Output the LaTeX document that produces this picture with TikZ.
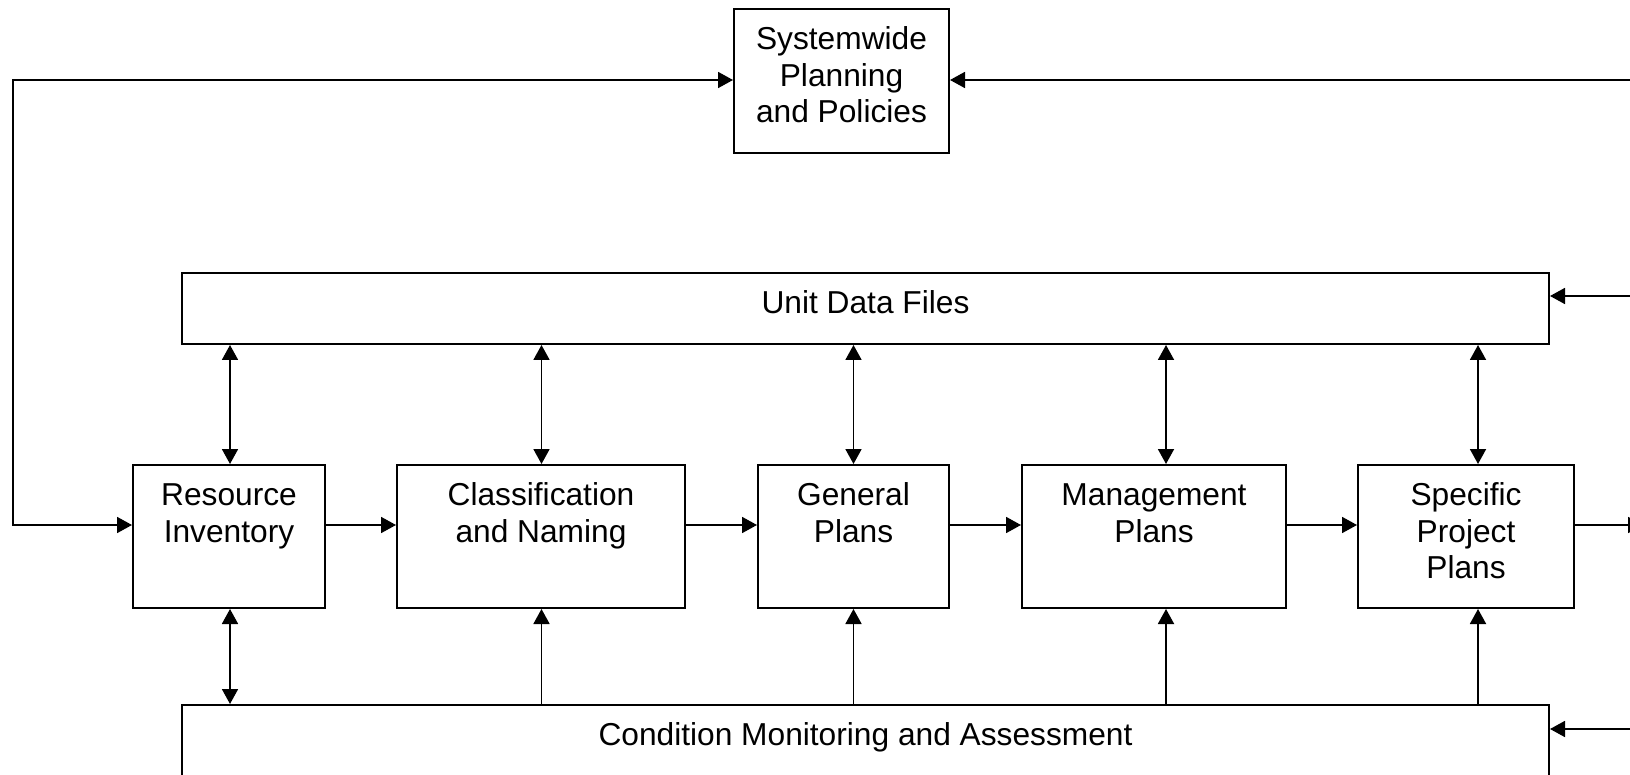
\documentclass[tikz,border=0pt]{standalone}
\usepackage{fontspec}
\setmainfont{Liberation Sans}
\usetikzlibrary{arrows.meta}
% invisible strut fixing the height of a label's first line
\newcommand\fs{\rule{0pt}{25pt}}
\begin{document}
\begin{tikzpicture}[x=1pt,y=-1pt,
  box/.style={draw, line width=2pt, inner sep=0pt, rectangle},
  lbl/.style={anchor=north, inner sep=0pt, align=center,
              font=\fontsize{31.7}{36.5}\selectfont},
  tip/.tip={Triangle[length=15pt,width=16pt]},
  conn/.style={line width=1.8pt, -tip},
  bidir/.style={line width=1.8pt, tip-tip}]

\fill[white] (0,0) rectangle (1630,775);
\useasboundingbox (0,0) rectangle (1630,775);
\clip (0,0) rectangle (1630,775);

% boxes
\node[box, minimum width=215, minimum height=144] (sys) at (841.5,81) {};
\node[box, minimum width=1367, minimum height=71] (udf) at (865.5,308.5) {};
\node[box, minimum width=192, minimum height=143] (ri) at (229,536.5) {};
\node[box, minimum width=288, minimum height=143] (cn) at (541,536.5) {};
\node[box, minimum width=191, minimum height=143] (gp) at (853.5,536.5) {};
\node[box, minimum width=264, minimum height=143] (mp) at (1154,536.5) {};
\node[box, minimum width=216, minimum height=143] (sp) at (1466,536.5) {};
\node[box, minimum width=1367, minimum height=80] (cma) at (865.5,745) {};

% labels, set from the top of each box
\node[lbl] (sysT) at ([yshift=-16.5pt]sys.north) {\fs Systemwide\\Planning\\and Policies};
\node[lbl] (udfT) at ([yshift=-16.5pt]udf.north) {\fs Unit Data Files};
\node[lbl] (riT) at ([yshift=-16.5pt]ri.north) {\fs Resource\\Inventory};
\node[lbl] (cnT) at ([yshift=-16.5pt]cn.north) {\fs Classification\\and Naming};
\node[lbl] (gpT) at ([yshift=-16.5pt]gp.north) {\fs General\\Plans};
\node[lbl] (mpT) at ([yshift=-16.5pt]mp.north) {\fs Management\\Plans};
\node[lbl] (spT) at ([yshift=-16.5pt]sp.north) {\fs Specific\\Project\\Plans};
\node[lbl] (cmaT) at ([yshift=-16.5pt]cma.north) {\fs Condition Monitoring and Assessment};

% guide coordinates
\coordinate (row) at (0,525);
\coordinate (c1) at (230,0);
\coordinate (c2) at (541.5,0);
\coordinate (c3) at (853.5,0);
\coordinate (c4) at (1166,0);
\coordinate (c5) at (1478,0);
\coordinate (lt) at (13,80);
\coordinate (lb) at (13,525);
\coordinate (rt) at (1645,80);
\coordinate (ru) at (1645,296);
\coordinate (rc) at (1645,729);
\coordinate (ro) at (1643,525);

% main flow
\draw[conn] (ri.east |- row) -- (cn.west |- row);
\draw[conn] (cn.east |- row) -- (gp.west |- row);
\draw[conn] (gp.east |- row) -- (mp.west |- row);
\draw[conn] (mp.east |- row) -- (sp.west |- row);
\draw[conn] (sp.east |- row) -- (ro);

% feedback loop on the left
\draw[bidir] (sys.west |- lt) -- (lt) -- (lb) -- (ri.west |- row);

% inputs from the right
\draw[conn] (rt) -- (sys.east |- rt);
\draw[conn] (ru) -- (udf.east |- ru);
\draw[conn] (rc) -- (cma.east |- rc);

% exchange with the unit data files
\draw[bidir] (udf.south -| c1) -- (ri.north -| c1);
\draw[bidir] (udf.south -| c2) -- (cn.north -| c2);
\draw[bidir] (udf.south -| c3) -- (gp.north -| c3);
\draw[bidir] (udf.south -| c4) -- (mp.north -| c4);
\draw[bidir] (udf.south -| c5) -- (sp.north -| c5);

% condition monitoring feeds
\draw[bidir] (cma.north -| c1) -- (ri.south -| c1);
\draw[conn] (cma.north -| c2) -- (cn.south -| c2);
\draw[conn] (cma.north -| c3) -- (gp.south -| c3);
\draw[conn] (cma.north -| c4) -- (mp.south -| c4);
\draw[conn] (cma.north -| c5) -- (sp.south -| c5);
\end{tikzpicture}
\end{document}
